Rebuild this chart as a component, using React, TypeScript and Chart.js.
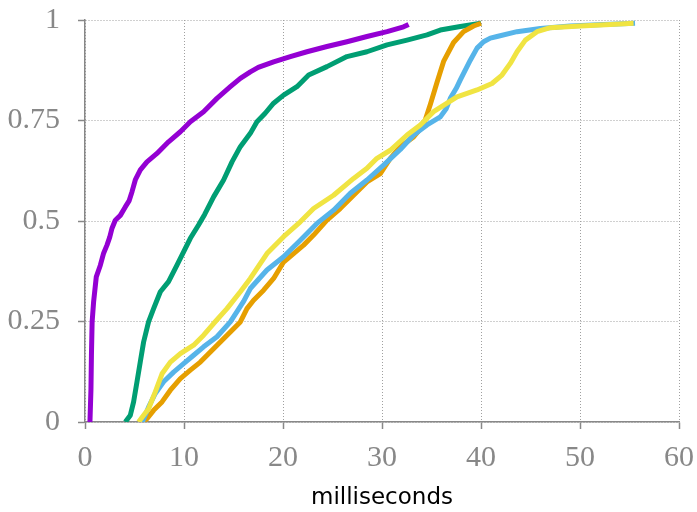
import React, { useEffect, useRef } from "react";
import { Chart, registerables } from "chart.js";

Chart.register(...registerables);

// ---- data (milliseconds vs cumulative fraction) ----
const purpleX = [0.5, 0.6, 0.65, 0.72, 0.87, 1.14, 1.55, 1.88, 2.22, 2.5, 2.73, 3.06, 3.57, 4.07, 4.45, 4.75, 5.08, 5.59, 6.26, 7.27, 8.44, 9.63, 10.64, 11.98, 13.33, 14.68, 15.69, 16.7, 17.5, 19.05, 20.74, 22.42, 24.44, 26.46, 28.48, 30.51, 32.18, 32.69];
const purpleY = [0, 0.08, 0.166, 0.249, 0.299, 0.361, 0.39, 0.42, 0.44, 0.46, 0.482, 0.502, 0.514, 0.535, 0.55, 0.573, 0.602, 0.627, 0.647, 0.668, 0.697, 0.722, 0.747, 0.772, 0.805, 0.834, 0.855, 0.871, 0.882, 0.896, 0.909, 0.921, 0.934, 0.946, 0.959, 0.971, 0.983, 0.989];

const greenX = [4.07, 4.58, 4.91, 5.25, 5.58, 5.92, 6.42, 6.93, 7.61, 8.44, 9.29, 9.96, 10.64, 11.47, 12.1, 12.99, 14.0, 14.85, 15.69, 16.7, 17.37, 18.2, 19.05, 20.06, 21.41, 22.59, 24.44, 26.46, 28.48, 30.51, 32.53, 34.55, 35.89, 37.91, 40.0];
const greenY = [0, 0.017, 0.05, 0.1, 0.149, 0.199, 0.249, 0.282, 0.324, 0.349, 0.39, 0.423, 0.457, 0.49, 0.517, 0.56, 0.602, 0.647, 0.685, 0.718, 0.747, 0.768, 0.793, 0.813, 0.834, 0.863, 0.884, 0.909, 0.921, 0.938, 0.95, 0.963, 0.975, 0.984, 0.992];

const orangeX = [5.7, 6.26, 6.93, 7.78, 8.62, 9.63, 10.64, 11.65, 12.66, 13.67, 14.68, 15.69, 16.36, 17.03, 18.04, 19.05, 20.06, 21.07, 22.08, 23.09, 24.44, 25.78, 27.13, 28.48, 29.83, 30.84, 31.85, 33.19, 34.2, 34.88, 35.56, 36.22, 37.23, 38.24, 39.25, 40.0];
const orangeY = [0, 0.008, 0.029, 0.05, 0.079, 0.108, 0.129, 0.149, 0.174, 0.199, 0.224, 0.249, 0.282, 0.303, 0.328, 0.357, 0.398, 0.419, 0.44, 0.465, 0.502, 0.531, 0.564, 0.597, 0.618, 0.656, 0.685, 0.709, 0.739, 0.79, 0.845, 0.897, 0.944, 0.971, 0.985, 0.992];

const blueX = [5.79, 6.42, 7.1, 7.94, 8.95, 9.96, 10.97, 11.98, 13.33, 14.68, 16.02, 16.7, 18.38, 20.06, 21.75, 23.43, 25.11, 26.8, 28.48, 30.16, 31.85, 33.19, 34.55, 35.89, 36.5, 36.9, 37.5, 37.91, 38.92, 39.6, 40.26, 40.94, 41.62, 43.64, 45.99, 48.99, 52.38, 55.56];
const blueY = [0, 0.037, 0.071, 0.1, 0.124, 0.145, 0.166, 0.187, 0.212, 0.249, 0.3, 0.332, 0.378, 0.411, 0.452, 0.494, 0.527, 0.569, 0.602, 0.639, 0.678, 0.714, 0.739, 0.759, 0.78, 0.805, 0.83, 0.851, 0.9, 0.93, 0.946, 0.955, 0.959, 0.971, 0.979, 0.985, 0.989, 0.992];

const yellowX = [5.41, 6.42, 7.1, 7.78, 8.62, 9.63, 10.97, 11.98, 12.99, 14.34, 15.69, 16.7, 18.38, 20.06, 21.75, 23.09, 25.11, 27.13, 28.48, 29.49, 30.84, 32.53, 33.87, 35.21, 36.57, 37.58, 39.6, 41.11, 42.12, 42.96, 43.64, 44.48, 45.66, 47.0, 50.03, 53.06, 55.41];
const yellowY = [0, 0.033, 0.075, 0.12, 0.149, 0.17, 0.191, 0.216, 0.245, 0.282, 0.324, 0.357, 0.419, 0.461, 0.498, 0.531, 0.564, 0.606, 0.631, 0.656, 0.676, 0.714, 0.739, 0.772, 0.793, 0.809, 0.826, 0.842, 0.863, 0.892, 0.921, 0.95, 0.971, 0.981, 0.985, 0.989, 0.992];

const xTitle = "milliseconds";
const xMin = 0;
const xMax = 60;
const xStep = 10;
const yMin = 0;
const yMax = 1;
const yStep = 0.25;

function pts(xs: number[], ys: number[]) {
  return xs.map((x, i) => ({ x, y: ys[i] }));
}

export default function App() {
  const ref = useRef<HTMLCanvasElement>(null);

  useEffect(() => {
    if (!ref.current) return;
    const tickFont = { family: "'Liberation Serif', 'DejaVu Serif', serif", size: 30, lineHeight: 1 };
    const gridOpts = {
      color: "#a0a0a0",
      lineWidth: 1,
      drawTicks: true,
      tickLength: 7,
      tickColor: "#888888",
      tickWidth: 1.5,
    };
    const borderOpts = { display: true, color: "#888888", width: 1.5, dash: [1, 2] };
    const mk = (label: string, xs: number[], ys: number[], color: string) => ({
      label,
      data: pts(xs, ys),
      borderColor: color,
      backgroundColor: color,
      borderWidth: 5,
      pointRadius: 0,
      fill: false,
      tension: 0,
      borderJoinStyle: "round" as const,
    });
    const fmt = (v: any) => String(Math.round(Number(v) * 100) / 100);
    const chart = new Chart(ref.current, {
      type: "line",
      data: {
        datasets: [
          mk("yellow", yellowX, yellowY, "#F0E442"),
          mk("blue", blueX, blueY, "#56B4E9"),
          mk("orange", orangeX, orangeY, "#E69F00"),
          mk("green", greenX, greenY, "#009E73"),
          mk("purple", purpleX, purpleY, "#9400D3"),
        ],
      },
      options: {
        animation: false,
        responsive: false,
        devicePixelRatio: 1,
        layout: { padding: { left: 0, right: 18, top: 20, bottom: 0 } },
        plugins: { legend: { display: false }, tooltip: { enabled: false } },
        scales: {
          x: {
            type: "linear",
            min: xMin,
            max: xMax,
            ticks: { stepSize: xStep, font: tickFont, color: "#888888", padding: 14, maxRotation: 0, callback: fmt },
            grid: gridOpts,
            border: borderOpts,
            title: {
              display: true,
              text: xTitle,
              color: "#000000",
              font: { family: "'DejaVu Sans', sans-serif", size: 23, lineHeight: 1.2 },
              padding: { top: 0, bottom: 0 },
            },
            afterFit: (s: any) => {
              s.height = 90;
              s.paddingLeft = 0;
              s.paddingRight = 0;
            },
          },
          y: {
            type: "linear",
            min: yMin,
            max: yMax,
            ticks: { stepSize: yStep, font: tickFont, color: "#888888", padding: 18, callback: fmt },
            grid: gridOpts,
            border: borderOpts,
            afterFit: (s: any) => {
              s.width = 85;
              s.paddingTop = 0;
              s.paddingBottom = 0;
            },
          },
        },
      },
    } as any);
    return () => chart.destroy();
  }, []);

  return (
    <div style={{ position: "absolute", left: 0, top: 0, width: 697, height: 512, background: "#fff" }}>
      <canvas ref={ref} width={697} height={512} />
    </div>
  );
}
